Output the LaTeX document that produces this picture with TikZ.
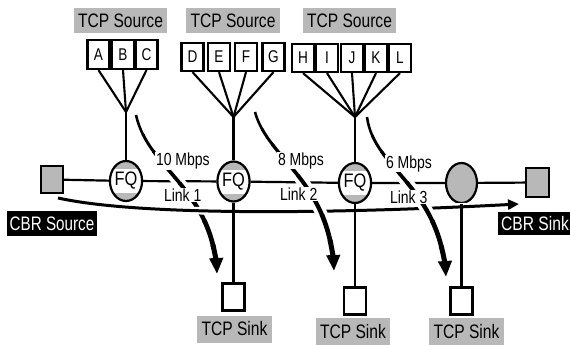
\documentclass[tikz,border=0pt]{standalone}
\usepackage{fontspec}
\setmainfont{Liberation Sans}
\usepackage{graphicx}
\usetikzlibrary{shapes.geometric,arrows.meta}

\definecolor{shade}{gray}{0.72}
% horizontally condensed text
\newcommand\narrow[2]{\scalebox{#1}[1]{#2}}

% tapered flow arrow along a Bezier curve: start, control 1, control 2, end
\newcommand\flowarrow[4]{%
  \draw[white, line width=12pt] (#1) .. controls (#2) and (#3) .. (#4);
  \foreach \k in {0,...,6}{%
    \pgfmathsetmacro\ta{\k/8}%
    \pgfmathsetmacro\tb{(\k+1)/8+0.01}%
    \pgfmathsetmacro\lw{2.4+2.8*(\k+0.5)/8}%
    \begin{pgfscope}
      \pgfsetlinewidth{\lw pt}%
      \pgfpathcurvebetweentime{\ta}{\tb}{\pgfpointanchor{#1}{center}}{\pgfpointanchor{#2}{center}}{\pgfpointanchor{#3}{center}}{\pgfpointanchor{#4}{center}}%
      \pgfusepath{stroke}%
    \end{pgfscope}}%
  \begin{pgfscope}
    \pgfsetlinewidth{5pt}%
    \pgfsetarrowsend{Triangle[length=16pt,width=13pt]}%
    \pgfpathcurvebetweentime{0.875}{1}{\pgfpointanchor{#1}{center}}{\pgfpointanchor{#2}{center}}{\pgfpointanchor{#3}{center}}{\pgfpointanchor{#4}{center}}%
    \pgfusepath{stroke}%
  \end{pgfscope}}

\begin{document}
\begin{tikzpicture}[x=1pt,y=-1pt,
  bigtxt/.style={font=\fontsize{19.5}{20}\selectfont},
  tag/.style={bigtxt, fill=shade, inner xsep=4.5pt, inner ysep=0pt, minimum height=25pt},
  darktag/.style={bigtxt, fill=black, text=white, inner xsep=3pt, inner ysep=0pt, minimum height=25pt},
  letter/.style={draw, line width=2.2pt, minimum width=22pt, minimum height=28pt, inner sep=0pt,
    fill=white, font=\fontsize{17}{18}\selectfont},
  sinkbox/.style={draw, line width=2.2pt, minimum width=22pt, minimum height=27pt, inner sep=0pt, fill=white},
  cbrbox/.style={sinkbox, fill=shade},
  router/.style={ellipse, draw, line width=2.2pt, minimum width=31pt, minimum height=40pt,
    inner sep=0pt, fill=shade},
  fq/.style={router, bigtxt, path picture={\fill[white]
    ([yshift=-12pt]path picture bounding box.west) rectangle
    ([yshift=12pt]path picture bounding box.east);}},
  rate/.style={font=\fontsize{17.5}{18}\selectfont, fill=white, inner sep=0.8pt, anchor=base west},
  wire/.style={line width=2.1pt},
  mainline/.style={line width=2.2pt}]

\useasboundingbox (0,0) rectangle (570,345);

% source groups
\node[tag] (src1) at (120.5,20.5) {\narrow{.8}{TCP Source}};
\node[tag] (src2) at (233,20.5) {\narrow{.8}{TCP Source}};
\node[tag] (src3) at (349.5,20.5) {\narrow{.8}{TCP Source}};

\node[letter, minimum height=29pt] (A) at (98.5,54.5) {\narrow{.8}{A}};
\node[letter, minimum height=29pt] (B) at (123,54.5) {\narrow{.8}{B}};
\node[letter, minimum height=29pt] (C) at (146.5,54.5) {\narrow{.8}{C}};
\node[letter] (D) at (192.5,57) {\narrow{.8}{D}};
\node[letter] (E) at (219,57) {\narrow{.8}{E}};
\node[letter] (F) at (246,57) {\narrow{.8}{F}};
\node[letter] (G) at (273.5,57) {\narrow{.8}{G}};
\node[letter] (H) at (303,58) {\narrow{.8}{H}};
\node[letter] (I) at (327,58) {\narrow{.8}{I}};
\node[letter] (J) at (352,58) {\narrow{.8}{J}};
\node[letter] (K) at (376,58) {\narrow{.8}{K}};
\node[letter] (L) at (400,58) {\narrow{.8}{L}};

\coordinate (fan1) at (126,112);
\coordinate (fan2) at (233.5,117);
\coordinate (fan3) at (355,117);

% routers and end hosts
\node[cbrbox] (cbrsrc) at (52,179.5) {};
\node[cbrbox, minimum height=29pt, minimum width=23pt] (cbrdst) at (537.5,182.5) {};
\node[fq] (fq1) at (126,181) {\narrow{.84}{FQ}};
\node[fq] (fq2) at (233.5,181.5) {\narrow{.84}{FQ}};
\node[fq] (fq3) at (355,183) {\narrow{.84}{FQ}};
\node[router] (r4) at (461.5,183) {};

\node[sinkbox] (s1) at (233.5,297) {};
\node[sinkbox] (s2) at (355,301) {};
\node[sinkbox] (s3) at (461.5,301) {};

% backbone
\draw[mainline] (cbrsrc) -- (fq1) -- (fq2) -- (fq3) -- (r4) -- (cbrdst);

% control points of the flows
\coordinate (f1s) at (136,115);  \coordinate (f1a) at (148,170);
\coordinate (f1b) at (213,188);  \coordinate (f1e) at (217,274);
\coordinate (f2s) at (255,112);  \coordinate (f2a) at (268,160);
\coordinate (f2b) at (330,180);  \coordinate (f2e) at (334,271);
\coordinate (f3s) at (367,117);  \coordinate (f3a) at (374,170);
\coordinate (f3b) at (440,185);  \coordinate (f3e) at (446,277);
\coordinate (c0) at (58,198);    \coordinate (c1) at (140,216);
\coordinate (c2) at (330,214);   \coordinate (c3) at (519,204);

\flowarrow{f1s}{f1a}{f1b}{f1e}

% CBR flow
\draw[white, line width=7.5pt] (c0) .. controls (c1) and (c2) .. (c3);
\draw[line width=3pt, -{Triangle[length=11pt,width=10pt]}] (c0) .. controls (c1) and (c2) .. (c3);

\flowarrow{f2s}{f2a}{f2b}{f2e}
\flowarrow{f3s}{f3a}{f3b}{f3e}

% access wires
\foreach \n in {A,B,C} \draw[wire] (fan1) -- (\n.south);
\foreach \n in {D,E,F,G} \draw[wire] (fan2) -- (\n.south);
\foreach \n in {H,I,J,K,L} \draw[wire] (fan3) -- (\n.south);
\draw[wire] (fan1) -- (fq1);
\draw[wire] (fan2) -- (fq2);
\draw[wire] (fan3) -- (fq3);
\draw[wire] (fq2) -- (s1);
\draw[wire] (fq3) -- (s2);
\draw[wire] (r4) -- (s3);

% link labels
\node[rate] (l1r) at (155,165.5) {\narrow{.8}{10 Mbps}};
\node[rate] (l2r) at (277,165) {\narrow{.8}{8 Mbps}};
\node[rate] (l3r) at (385,168) {\narrow{.8}{6 Mbps}};
\node[rate] (l1) at (163,201) {\narrow{.8}{Link 1}};
\node[rate] (l2) at (279,200) {\narrow{.8}{Link 2}};
\node[rate] (l3) at (389,203) {\narrow{.8}{Link 3}};

% end-point tags
\node[darktag] (cbrsrcl) at (52,223.5) {\narrow{.78}{CBR Source}};
\node[darktag, anchor=west, minimum height=23pt] (cbrdstl) at (498,223.5) {\narrow{.8}{CBR Sink}};
\node[tag, minimum height=27pt] (k1) at (234.5,329) {\narrow{.8}{TCP Sink}};
\node[tag, minimum height=27pt] (k2) at (353,331.5) {\narrow{.8}{TCP Sink}};
\node[tag, minimum height=27pt] (k3) at (466.5,331.5) {\narrow{.8}{TCP Sink}};
\end{tikzpicture}
\end{document}
